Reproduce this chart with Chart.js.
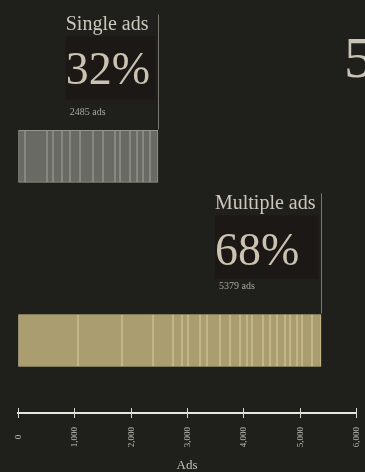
<!DOCTYPE html>
<html>
<head>
<meta charset="utf-8">
<title>Single vs multiple ads</title>
<script src="https://cdn.jsdelivr.net/npm/chart.js@4.4.1/dist/chart.umd.min.js"></script>
<style>
  html, body { margin: 0; padding: 0; background: #1f1f1b; }
  #wrap { width: 365px; height: 472px; position: relative; }
</style>
</head>
<body>
<div id="wrap"><canvas id="c"></canvas></div>
<script>
// Ad counts per advertiser, stacked into one bar per group
const categories = ['Single ads', 'Multiple ads'];
const singleSegments = [124, 391, 106, 160, 142, 178, 230, 178, 213, 89, 177, 125, 106, 124, 142];
const multipleSegments = [1065, 781, 551, 355, 159, 107, 213, 124, 231, 178, 177, 124, 89, 195, 125, 124, 142, 89, 124, 89, 177, 160];
const axisTitle = 'Ads';
const sideFigure = '5';

const groups = [singleSegments, multipleSegments];
const totals = groups.map(g => g.reduce((a, b) => a + b, 0));
const grandTotal = totals.reduce((a, b) => a + b, 0);

const BG = '#1f1f1b';
const fills = ['#6a6a65', '#aa9e70'];
const stripes = ['#97978f', '#cdc194'];

const maxLen = Math.max(...groups.map(g => g.length));
const datasets = [];
for (let i = 0; i < maxLen; i++) {
  const data = [];
  const bg = [], bd = [];
  groups.forEach((g, gi) => {
    if (g[i] != null) {
      data.push({ x: g[i], y: gi });
      bg.push(fills[gi]);
      bd.push(stripes[gi]);
    }
  });
  datasets.push({
    label: 'seg' + i,
    data,
    backgroundColor: bg,
    borderColor: bd,
    borderWidth: 1,
    borderSkipped: false,
    barThickness: 52
  });
}

const SERIF = '"Liberation Serif", "DejaVu Serif", serif';

const bgPlugin = {
  id: 'bg',
  beforeDraw(chart) {
    const ctx = chart.ctx;
    ctx.save();
    ctx.fillStyle = BG;
    ctx.fillRect(0, 0, chart.width, chart.height);
    ctx.restore();
  }
};

// Callout text, leader lines, tick labels and axis title
const labelPlugin = {
  id: 'labels',
  afterDraw(chart) {
    const ctx = chart.ctx;
    const xs = chart.scales.x;
    const ys = chart.scales.y;
    ctx.save();

    // group callouts
    const layout = [
      { titleTop: 100, gap: 10, pctDy: 54, countDy: 85 },
      { titleTop: 105, gap: 6, pctDy: 56, countDy: 80 }
    ];
    categories.forEach((name, gi) => {
      const L = layout[gi];
      const lineX = Math.round(xs.getPixelForValue(totals[gi])) + 0.5;
      const barTop = ys.getPixelForValue(gi) - 26;
      const pct = Math.round(totals[gi] / grandTotal * 100) + '%';

      ctx.font = '20px ' + SERIF;
      const tw = ctx.measureText(name).width;
      const left = lineX - L.gap - tw;
      const titleBase = barTop - L.titleTop;

      // faint panel behind the percentage
      ctx.fillStyle = 'rgba(20,12,14,0.35)';
      ctx.fillRect(left, titleBase + 6, lineX - left - 3, 63);

      ctx.fillStyle = '#cdc8bd';
      ctx.textAlign = 'left';
      ctx.textBaseline = 'alphabetic';
      ctx.fillText(name, left, titleBase);

      ctx.font = '46px ' + SERIF;
      ctx.fillStyle = '#cbc2b2';
      ctx.fillText(pct, left, titleBase + L.pctDy);

      ctx.font = '10px ' + SERIF;
      ctx.fillStyle = '#aaa99f';
      ctx.fillText(totals[gi] + ' ads', left + 4, titleBase + L.countDy);

      ctx.strokeStyle = '#77776f';
      ctx.lineWidth = 1;
      ctx.beginPath();
      ctx.moveTo(lineX, titleBase - 16);
      ctx.lineTo(lineX, barTop - 1);
      ctx.stroke();
    });

    // tick marks and rotated tick labels
    const axisY = xs.top;
    ctx.strokeStyle = '#d8d8d0';
    ctx.lineWidth = 1;
    ctx.font = '9px ' + SERIF;
    ctx.fillStyle = '#bdbcb2';
    xs.ticks.forEach((t, i) => {
      const px = Math.round(xs.getPixelForTick(i)) + 0.5;
      ctx.beginPath();
      ctx.moveTo(px, axisY - 5);
      ctx.lineTo(px, axisY + 5);
      ctx.stroke();
      ctx.save();
      ctx.translate(px, axisY + 24);
      ctx.rotate(-Math.PI / 2);
      ctx.textAlign = 'center';
      ctx.textBaseline = 'middle';
      ctx.fillText(t.value.toLocaleString('en-US'), 0, 0);
      ctx.restore();
    });

    // axis title
    ctx.font = '13px ' + SERIF;
    ctx.fillStyle = '#c4c3b9';
    ctx.textAlign = 'center';
    ctx.textBaseline = 'alphabetic';
    ctx.fillText(axisTitle, (xs.left + xs.right) / 2, axisY + 56);

    // large figure at the right edge
    ctx.font = '58px ' + SERIF;
    ctx.fillStyle = '#c9c4b8';
    ctx.textAlign = 'left';
    ctx.fillText(sideFigure, chart.width - 21, 77);

    ctx.restore();
  }
};

new Chart(document.getElementById('c'), {
  type: 'bar',
  data: { datasets },
  options: {
    indexAxis: 'y',
    responsive: true,
    maintainAspectRatio: false,
    animation: false,
    layout: { padding: { left: 18, right: 9, top: 0, bottom: 54 } },
    plugins: { legend: { display: false }, tooltip: { enabled: false } },
    scales: {
      x: {
        type: 'linear',
        stacked: true,
        min: 0,
        max: 6000,
        ticks: { display: false, stepSize: 1000 },
        grid: { display: true, drawOnChartArea: false, drawTicks: true, tickLength: 5, color: 'rgba(0,0,0,0)' },
        border: { display: true, color: '#e6e6de', width: 2 }
      },
      y: {
        type: 'linear',
        stacked: true,
        display: false,
        reverse: true,
        offset: false,
        bounds: 'data',
        min: -0.85,
        max: 1.394
      }
    }
  },
  plugins: [bgPlugin, labelPlugin]
});
</script>
</body>
</html>
